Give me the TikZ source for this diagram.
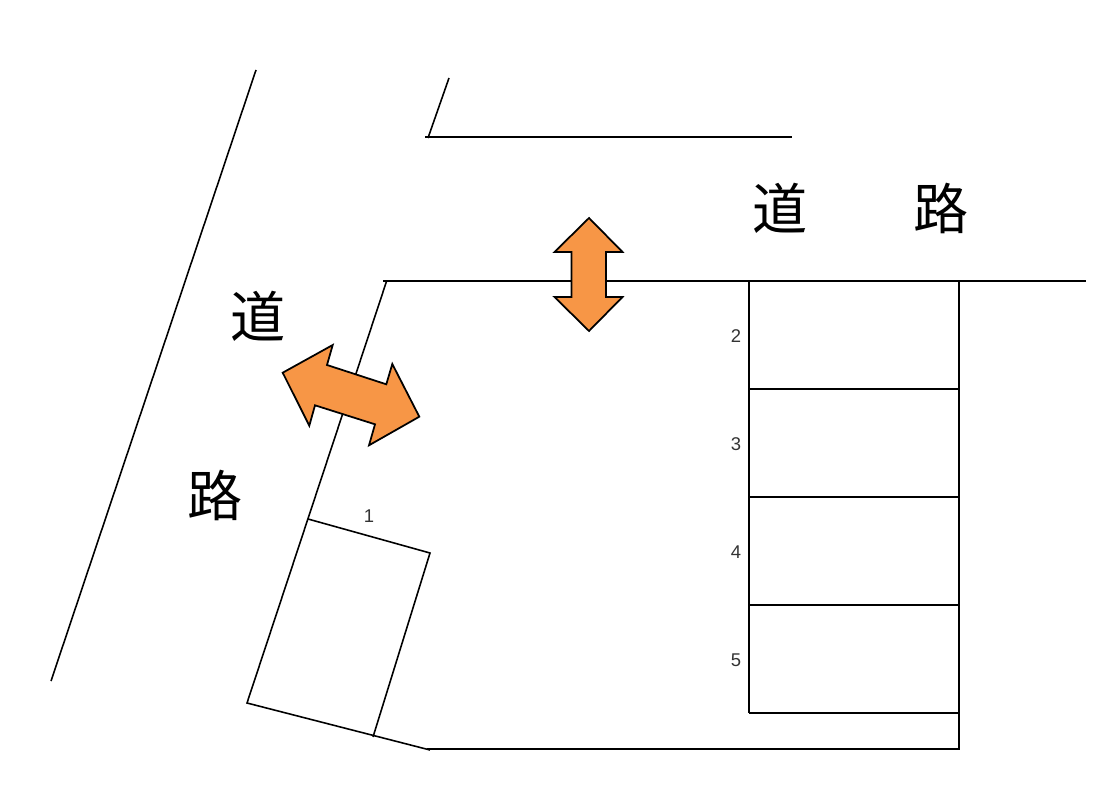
\documentclass[tikz,border=0pt]{standalone}
\usepackage{fontspec}
\newfontfamily\cjkFont{Noto Sans CJK JP}
\setmainfont{Liberation Sans}
\definecolor{gateOrange}{HTML}{F79646}
\newcommand\lotLeft{749}
\newcommand\lotRight{959}
\newcommand\lotTop{281}
\newcommand\lotDist{108}
\newcommand\drawParkingRows{
	\foreach \i/\lotLabel in {0/2,1/3,2/4,3/5}{
		\draw[wall] (\lotLeft,\lotTop+\i*\lotDist+\lotDist) to (\lotRight,\lotTop+\i*\lotDist+\lotDist);
		\node[lotnum] (lot\lotLabel) at (736,\lotTop+55+\i*\lotDist) {\lotLabel};
	}
}
\tikzset{
	wall/.style={line width=1.2pt, black},
	thinwall/.style={line width=0.9pt, black},
	gate/.style={fill=gateOrange, draw=black, line width=1pt, line join=miter},
	roadname/.style={font=\cjkFont\fontsize{31.4}{32}\selectfont, inner sep=0pt},
	lotnum/.style={font=\fontsize{10.5}{11}\selectfont, inner sep=0pt, text=black!80},
}

\begin{document}
\begin{tikzpicture}[x=0.02cm, y=-0.02cm]
	\useasboundingbox (0,0) rectangle (1114,804);
	
	% road edges
	\draw[thinwall] (256,70) to (51,681);
	\draw[thinwall] (449,78) to (428,138);
	\draw[wall] (425,137) to (792,137);
	\draw[wall] (383,\lotTop) to (1086,\lotTop);
	
	% lot 1
	\draw[thinwall] (386.3,282) to (247,703) to (430,750);
	\draw[thinwall] (308,519) to (430,553) to (373,737);
	\node[lotnum] (lot1) at (369,516) {1};
	
	% lots 2 to 5
	\draw[wall] (\lotLeft,\lotTop) to (\lotLeft,713);
	\draw[wall] (\lotRight,\lotTop) to (\lotRight,749) to (427,749);
	\drawParkingRows
	
	% entrances
	\draw[gate] (589,218) to (622.5,252) to (606,252) to (606,297) to (622.5,297) to (589,331)
	to (554.5,297) to (571.5,297) to (571.5,252) to (554.5,252) to cycle;
	\draw[gate] (282.7,372.7) to (332.7,345) to (327,365) to (386.3,384.3) to (392.3,364) to (419.3,416.7)
	to (369,445.3) to (375,424.3) to (315,405.3) to (309.3,425.7) to cycle;
	
	\node[roadname] (roadTopA) at (780,208) {道};
	\node[roadname] (roadTopB) at (941,208) {路};
	\node[roadname] (roadLeftA) at (258,316) {道};
	\node[roadname] (roadLeftB) at (215,495) {路};
\end{tikzpicture}
\end{document}
